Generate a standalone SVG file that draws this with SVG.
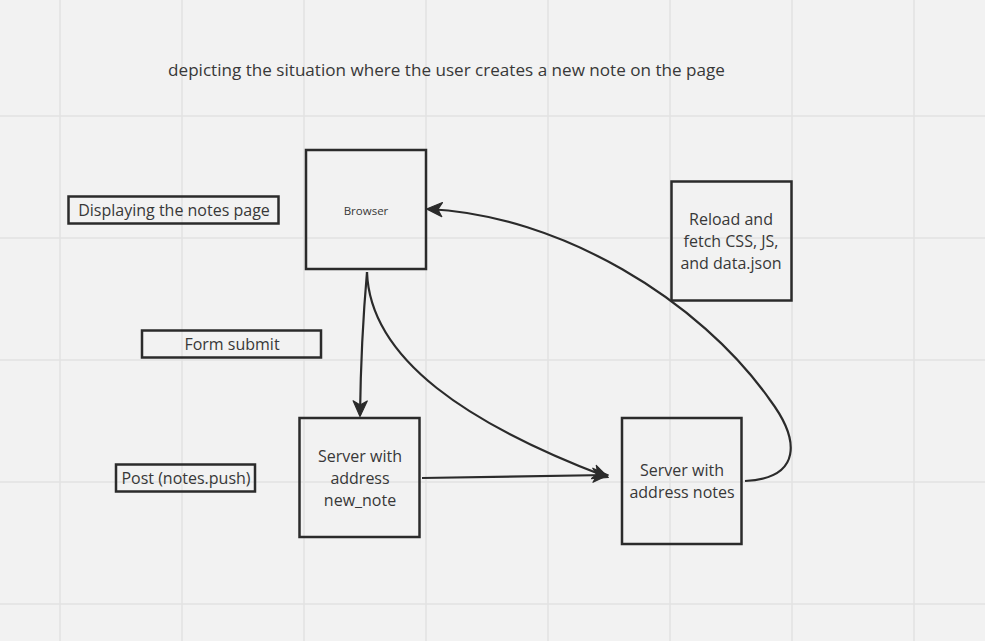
<svg xmlns="http://www.w3.org/2000/svg" width="985" height="641" viewBox="0 0 985 641">
<defs>
<style>
.grid line{stroke:#e2e2e2;stroke-width:1.5}
.box{fill:none;stroke:#2b2b2b;stroke-width:2.5}
.t{font-family:"Open Sans","Noto Sans","Liberation Sans",sans-serif;fill:#383838;text-anchor:middle}
.c{fill:none;stroke:#2b2b2b;stroke-width:2.2}
</style>
<marker id="ah" viewBox="0 0 12 12" refX="10.5" refY="6" markerWidth="17" markerHeight="17" markerUnits="userSpaceOnUse" orient="auto">
<path d="M0.5,1 L11.5,6 L0.5,11 L3.5,6 z" fill="#2b2b2b" stroke="#2b2b2b" stroke-width="0.8" stroke-linejoin="round"/>
</marker>
</defs>
<rect width="985" height="641" fill="#f2f2f2"/>
<g class="grid">
<line x1="60" y1="0" x2="60" y2="641"/><line x1="182" y1="0" x2="182" y2="641"/><line x1="304" y1="0" x2="304" y2="641"/><line x1="426" y1="0" x2="426" y2="641"/><line x1="548" y1="0" x2="548" y2="641"/><line x1="670" y1="0" x2="670" y2="641"/><line x1="792" y1="0" x2="792" y2="641"/><line x1="914" y1="0" x2="914" y2="641"/>
<line x1="0" y1="116" x2="985" y2="116"/><line x1="0" y1="238" x2="985" y2="238"/><line x1="0" y1="360" x2="985" y2="360"/><line x1="0" y1="482" x2="985" y2="482"/><line x1="0" y1="604" x2="985" y2="604"/>
</g>
<text class="t" x="446.5" y="76" font-size="17.1">depicting the situation where the user creates a new note on the page</text>
<g id="browser"><rect class="box" x="306" y="150" width="120" height="119"/><text class="t" x="366" y="215" font-size="11.5">Browser</text></g>
<g id="displaying"><rect class="box" x="68.5" y="196.5" width="210" height="27"/><text class="t" x="174" y="216" font-size="16">Displaying the notes page</text></g>
<g id="formsubmit"><rect class="box" x="142" y="330.5" width="179" height="27"/><text class="t" x="232" y="350" font-size="16">Form submit</text></g>
<g id="post"><rect class="box" x="116" y="464.5" width="139" height="27"/><text class="t" x="186" y="484" font-size="16">Post (notes.push)</text></g>
<g id="newnote"><rect class="box" x="299.5" y="418" width="120" height="119"/><text class="t" x="360" y="462" font-size="16">Server with</text><text class="t" x="360" y="484" font-size="16">address</text><text class="t" x="360" y="506" font-size="16">new_note</text></g>
<g id="notes"><rect class="box" x="622" y="418" width="119.5" height="126"/><text class="t" x="682" y="476" font-size="16">Server with</text><text class="t" x="682" y="498" font-size="16">address notes</text></g>
<g id="reload"><rect class="box" x="671.5" y="181.5" width="120" height="119"/><text class="t" x="731" y="225" font-size="16">Reload and</text><text class="t" x="731" y="247" font-size="16">fetch CSS, JS,</text><text class="t" x="731" y="269" font-size="16">and data.json</text></g>
<g id="connectors">
<path class="c" d="M367 272 Q361 340 360 415" marker-end="url(#ah)"/>
<path class="c" d="M367 272 C370 360 470 425 607 477" marker-end="url(#ah)"/>
<path class="c" d="M422 478 L607 475" marker-end="url(#ah)"/>
<path class="c" d="M745 481 C802 478 800 440 770 400 C700 300 560 215 428 209" marker-end="url(#ah)"/>
</g>
</svg>
